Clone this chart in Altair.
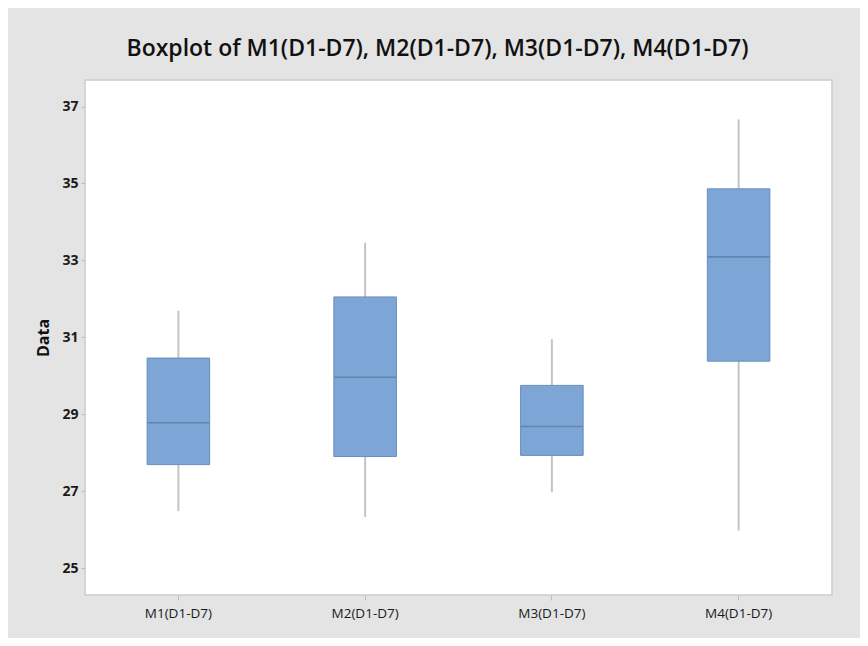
import altair as alt
import pandas as pd

groups = ["M1(D1-D7)", "M2(D1-D7)", "M3(D1-D7)", "M4(D1-D7)"]
mins = [26.48, 26.33, 26.98, 25.98]
q1s = [27.69, 27.90, 27.93, 30.38]
medians = [28.78, 29.96, 28.68, 33.09]
q3s = [30.46, 32.05, 29.75, 34.86]
maxs = [31.69, 33.46, 30.95, 36.66]
y_ticks = [25, 27, 29, 31, 33, 35, 37]

df = pd.DataFrame({
    "group": groups, "lo": mins, "q1": q1s, "med": medians, "q3": q3s, "hi": maxs
})

FONT = "Open Sans"
xenc = alt.X(
    "group:N", sort=groups, title=None,
    scale=alt.Scale(paddingInner=0, paddingOuter=0),
    axis=alt.Axis(labelAngle=0, domain=False, ticks=True, tickColor="#bdbdbd",
                  tickSize=5, labelPadding=6, labelFontSize=13.5, labelFont=FONT,
                  labelColor="#1a1a1a"),
)
yscale = alt.Scale(domain=[24.3, 37.69], nice=False, zero=False)
yaxis = alt.Axis(values=y_ticks, grid=False, domain=False, tickColor="#bdbdbd",
                 tickSize=4, labelPadding=3, labelFontSize=14, labelFontWeight="bold",
                 labelFont=FONT, labelColor="#1a1a1a", title="Data",
                 titleFontSize=16, titleFontWeight="bold", titleFont=FONT,
                 titleColor="#111111", titlePadding=10)

base = alt.Chart(df)

whisker = base.mark_rule(color="#c4c4c4", strokeWidth=2).encode(
    x=xenc,
    y=alt.Y("lo:Q", scale=yscale, axis=yaxis),
    y2="hi:Q",
)
box = base.mark_bar(width={"band": 0.335}, color="#7da5d6", stroke="#6a8dbd",
                    strokeWidth=1).encode(
    x=xenc,
    y=alt.Y("q1:Q", scale=yscale, axis=yaxis),
    y2="q3:Q",
)
median = base.mark_tick(size=62, thickness=1.6, color="#59779c").encode(
    x=xenc,
    y=alt.Y("med:Q", scale=yscale, axis=yaxis),
)

chart = (
    alt.layer(whisker, box, median)
    .properties(
        width=747, height=515,
        autosize=alt.AutoSizeParams(type="none"),
        padding={"left": 77, "top": 72, "right": 28, "bottom": 43},
        background="#e4e4e4",
        title=alt.TitleParams(
            "Boxplot of M1(D1-D7), M2(D1-D7), M3(D1-D7), M4(D1-D7)",
            font=FONT, fontSize=23, fontWeight=600, color="#111111",
            anchor="middle", dx=-21, offset=19,
        ),
    )
    .configure_view(fill="white", stroke="#cccccc", strokeWidth=1.5)
)

chart.save("out.html", embed_options={"renderer": "svg", "actions": False})
